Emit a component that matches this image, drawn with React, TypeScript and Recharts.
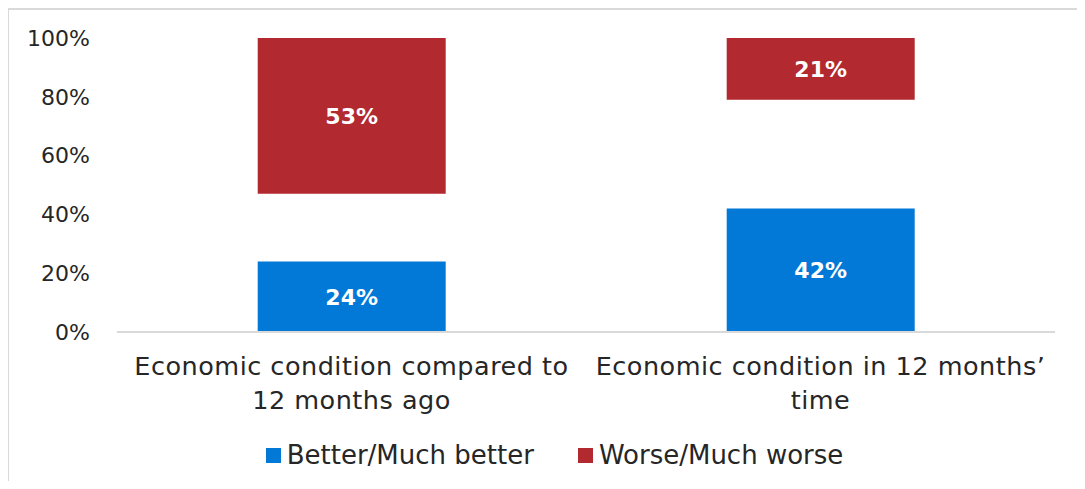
import React from "react";
import { BarChart, Bar, XAxis, YAxis, Legend, LabelList } from "recharts";

const categories = ["Economic condition compared to 12 months ago", "Economic condition in 12 months’ time"];
const categoryLines = [
  ["Economic condition compared to", "12 months ago"],
  ["Economic condition in 12 months’", "time"],
];
const better = [24, 42];
const neither = [23, 37];
const worse = [53, 21];
const yTicks = [0, 20, 40, 60, 80, 100];

const BLUE = "#0279D7";
const RED = "#B2292F";
const FONT = "'DejaVu Sans', sans-serif";
const TEXT = "#262626";

const data = categories.map((c, i) => ({
  name: c,
  better: better[i],
  neither: neither[i],
  worse: worse[i],
}));

const CatTick = (props: any) => {
  const { x, y, index } = props;
  const lines = categoryLines[index] || [];
  return (
    <g>
      {lines.map((l, i) => (
        <text
          key={i}
          x={x}
          y={y + 35 + i * 33.5}
          textAnchor="middle"
          fill={TEXT}
          fontSize={25.5}
          letterSpacing={0.5}
          fontFamily={FONT}
        >
          {l}
        </text>
      ))}
    </g>
  );
};

const LegendContent = () => (
  <div style={{ display: "flex", justifyContent: "center", height: 34, alignItems: "center", fontFamily: FONT, fontSize: 26, color: TEXT, paddingLeft: 54 }}>
    <div style={{ display: "flex", alignItems: "center", marginRight: 44 }}>
      <span style={{ width: 15, height: 15, background: BLUE, display: "inline-block", marginRight: 6 }} />
      <span>Better/Much better</span>
    </div>
    <div style={{ display: "flex", alignItems: "center" }}>
      <span style={{ width: 15, height: 15, background: RED, display: "inline-block", marginRight: 6 }} />
      <span>Worse/Much worse</span>
    </div>
  </div>
);

const pct = (v: any) => `${v}%`;

export default function App() {
  return (
    <div style={{ position: "relative", margin: -8, width: 1085, height: 489, background: "#fff", overflow: "hidden" }}>
      <div
        style={{
          position: "absolute",
          left: 7,
          top: 8,
          width: 1200,
          height: 600,
          borderLeft: "2px solid #D9D9D9",
          borderTop: "2px solid #D9D9D9",
        }}
      />
      <div style={{ position: "absolute", left: 0, top: 0 }}>
        <BarChart
          width={1085}
          height={489}
          data={data}
          margin={{ top: 38, right: 30, bottom: 23, left: 0 }}
          barCategoryGap="30%"
        >
          <YAxis
            type="number"
            domain={[0, 100]}
            ticks={yTicks}
            tickFormatter={pct}
            axisLine={false}
            tickLine={false}
            tickSize={0}
            tickMargin={27}
            width={117}
            tick={{ fill: TEXT, fontSize: 22, fontFamily: FONT }}
            interval={0}
          />
          <XAxis
            dataKey="name"
            axisLine={{ stroke: "#D9D9D9", strokeWidth: 2 }}
            tickLine={false}
            tick={<CatTick />}
            height={100}
            interval={0}
          />
          <Legend verticalAlign="bottom" content={<LegendContent />} wrapperStyle={{ bottom: 17 }} />
          <Bar dataKey="better" stackId="a" fill={BLUE} isAnimationActive={false}>
            <LabelList dataKey="better" position="center" formatter={pct} fill="#fff" fontSize={22} fontWeight="bold" fontFamily={FONT} />
          </Bar>
          <Bar dataKey="neither" stackId="a" fill="transparent" isAnimationActive={false} legendType="none" />
          <Bar dataKey="worse" stackId="a" fill={RED} isAnimationActive={false}>
            <LabelList dataKey="worse" position="center" formatter={pct} fill="#fff" fontSize={22} fontWeight="bold" fontFamily={FONT} />
          </Bar>
        </BarChart>
      </div>
    </div>
  );
}
